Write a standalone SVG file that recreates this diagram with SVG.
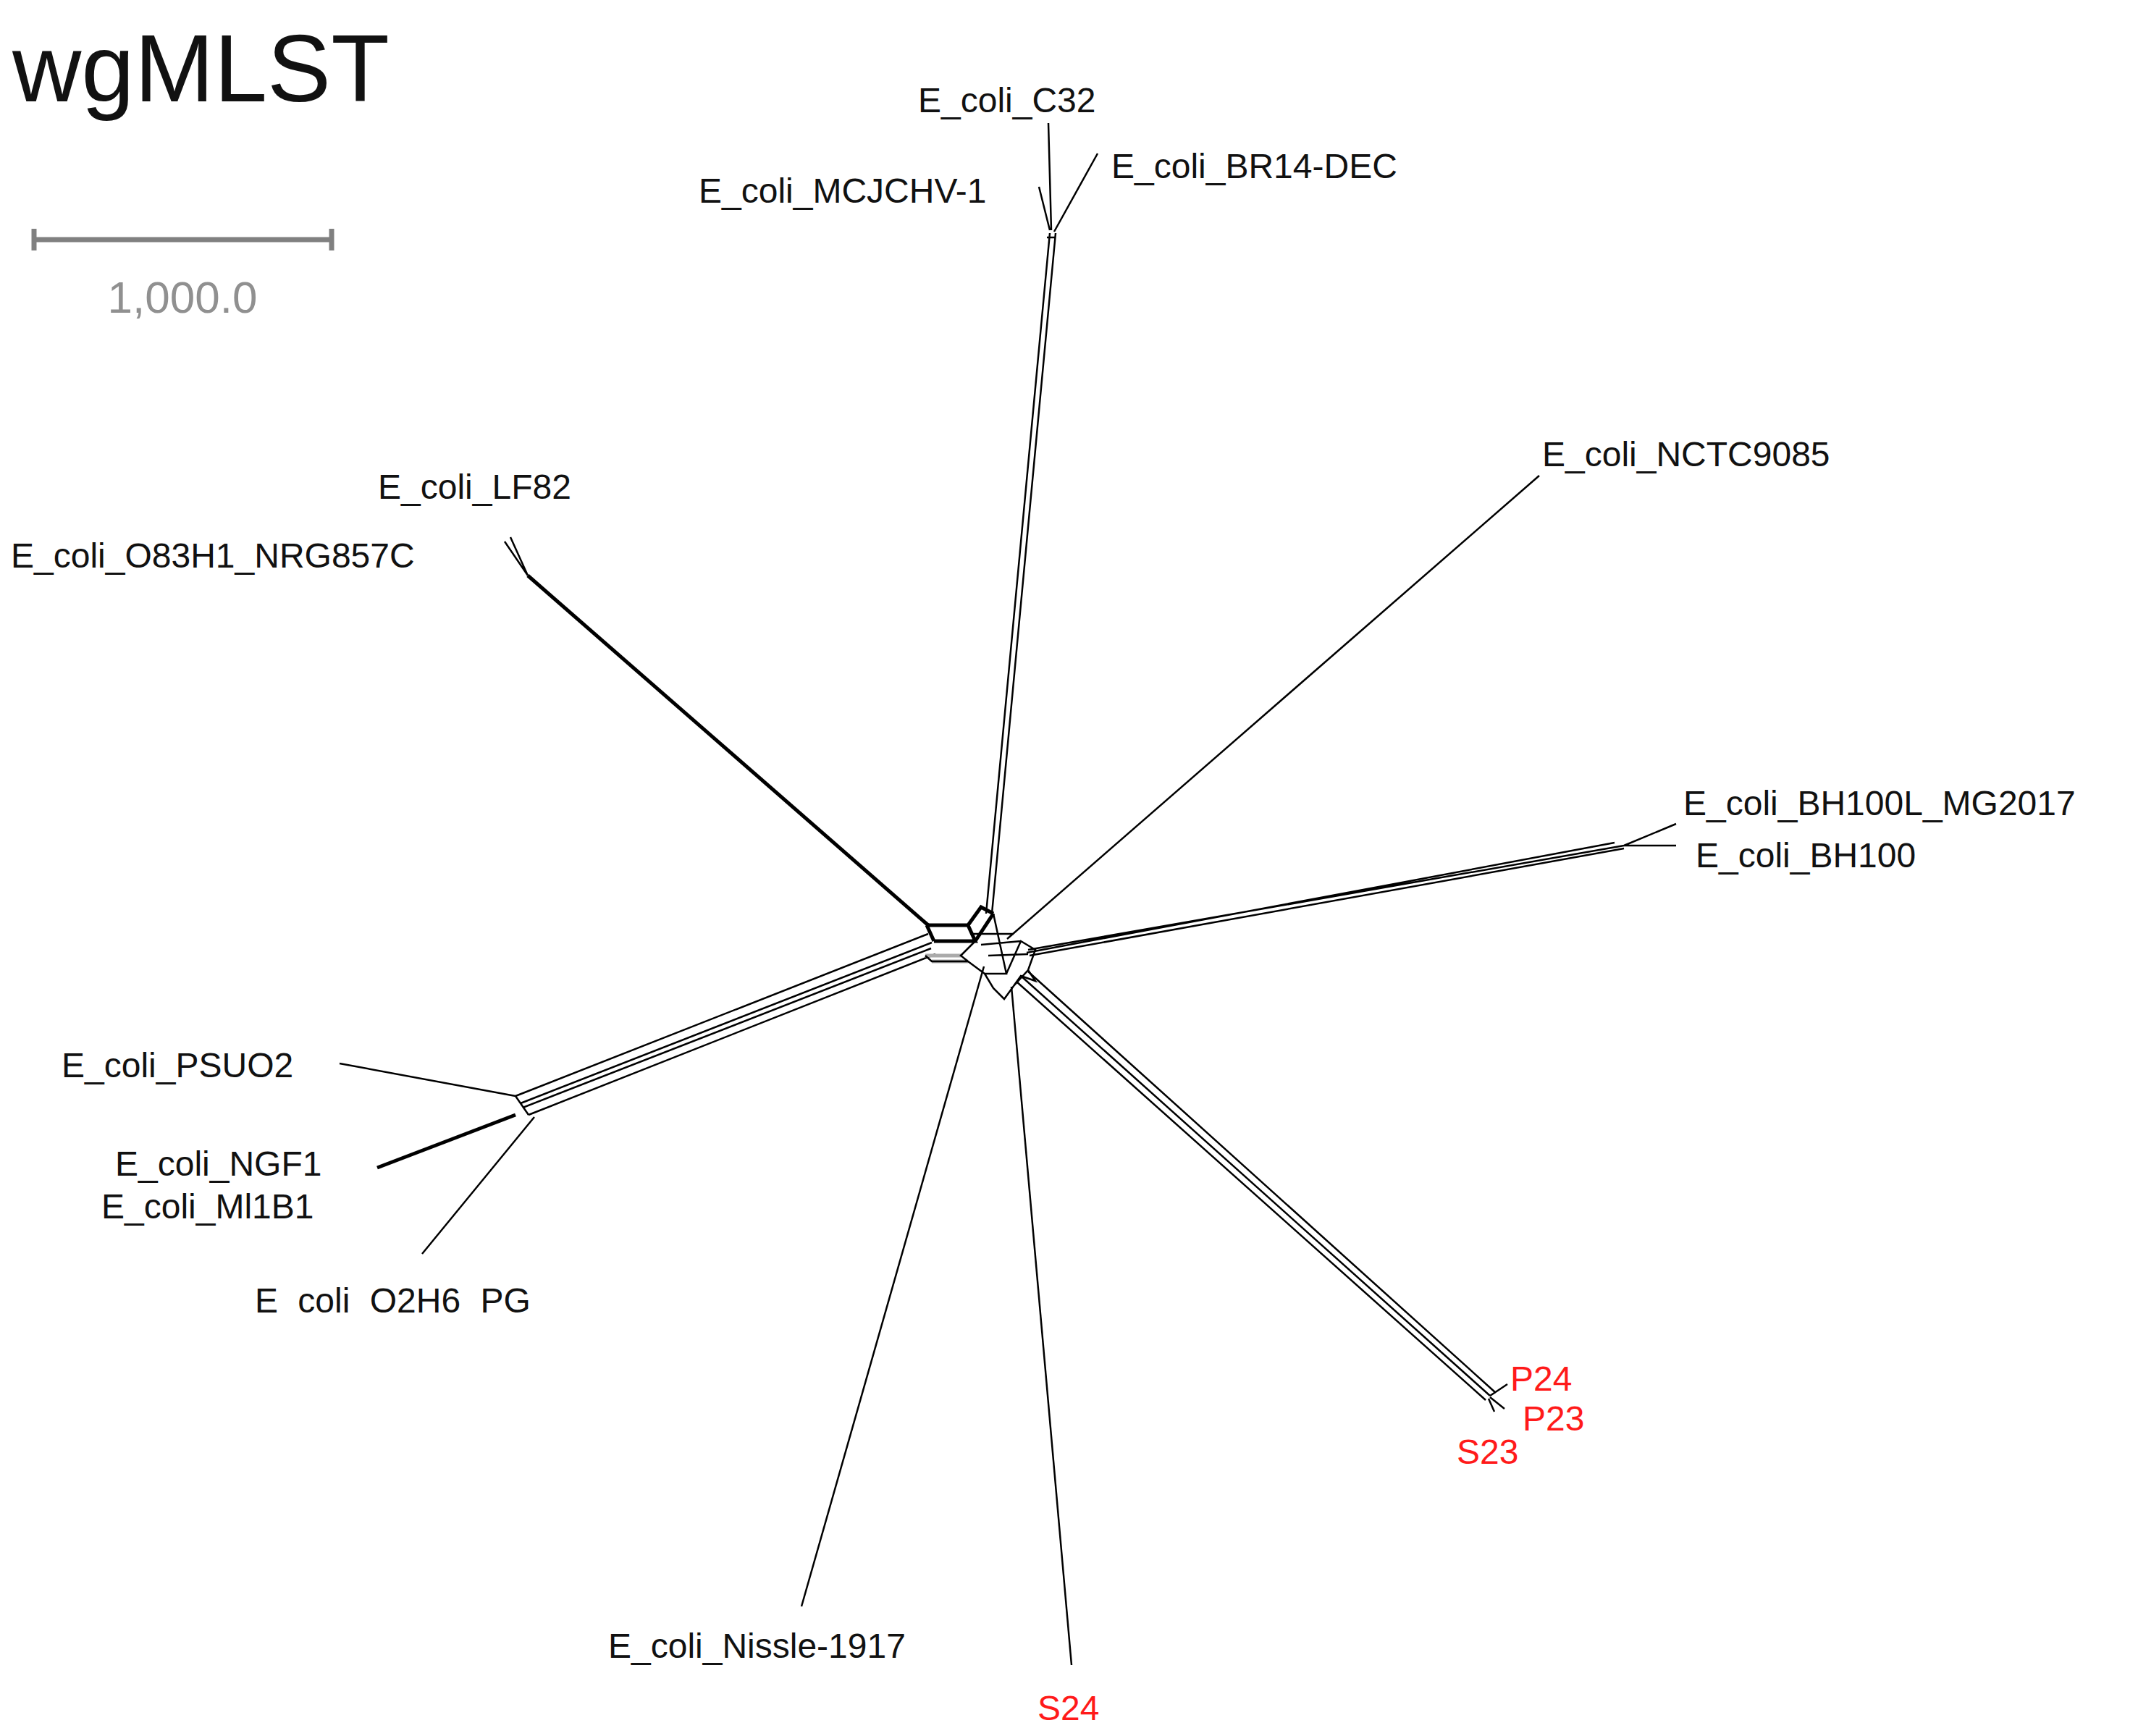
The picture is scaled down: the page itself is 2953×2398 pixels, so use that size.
<svg xmlns="http://www.w3.org/2000/svg" width="2953" height="2398" viewBox="0 0 2953 2398">
<style>
.l{fill:none;stroke:#000;stroke-width:2.5}
.t{stroke-width:5}
.g{fill:none;stroke:#aaa;stroke-width:5}
text{font-family:"Liberation Sans",Arial,sans-serif;font-size:48px;fill:#111}
.r{fill:#ff1a1a}
</style>
<rect width="2953" height="2398" fill="#fff"/>
<text x="17" y="140" style="font-size:132px">wgMLST</text>
<g id="scale" stroke="#808080" stroke-width="7" fill="none"><path d="M47 331H458M47 316V346M458 316V346"/></g>
<text x="252" y="432" text-anchor="middle" style="font-size:62px;fill:#909090">1,000.0</text>
<g id="connectors">
<path class="l" d="M1435 258L1450 318M1448 170L1452 318M1516 212L1456 320"/>
<path class="l" d="M1450 322L1362 1262M1458 322L1370 1262M1446 328L1458 328"/>
<path class="l" d="M697 748L729 795M705 742L729 795"/>
<path class="l t" d="M729 795L1282 1278"/>
<path class="l" d="M2126 657L1391 1297"/>
<path class="l" d="M2315 1138L2243 1168M2315 1168H2243M2243 1168L1420 1312M2243 1172L1422 1320M2230 1164L1418 1316"/>
<path class="l" d="M469 1469L712 1514M719 1524L1287 1302M712 1514L1282 1290M730 1540L1292 1318M722 1530L1286 1310"/>
<path class="l t" d="M521 1613L712 1540"/>
<path class="l" d="M583 1732L738 1543M712 1514L730 1540L719 1524"/>
<path class="l" d="M1107 2219L1359 1335"/>
<path class="l" d="M1480 2300L1397 1363"/>
<path class="l" d="M1410 1348L2058 1928M1420 1342L2066 1924M1404 1356L2052 1934M2058 1928L2082 1912M2058 1930L2078 1946M2056 1932L2064 1950"/>
<path class="l t" d="M1280 1278H1337L1355 1253L1372 1262M1290 1300H1347L1337 1278M1280 1278L1290 1300M1347 1300L1372 1262"/>
<path class="g" d="M1278 1320H1327M1287 1328H1337"/>
<path class="l" d="M1278 1320L1287 1328L1337 1328L1327 1320L1347 1300M1337 1328L1360 1345L1390 1345L1372 1262M1390 1345L1410 1300L1430 1312L1420 1340L1400 1362L1387 1380L1372 1365L1360 1345M1400 1362L1410 1348L1430 1355L1420 1340M1340 1290L1400 1290M1355 1305L1410 1300M1365 1320L1420 1318"/>
</g>
<g id="labels">
<text x="1268" y="155">E_coli_C32</text>
<text x="965" y="280">E_coli_MCJCHV-1</text>
<text x="1535" y="246">E_coli_BR14-DEC</text>
<text x="2130" y="644">E_coli_NCTC9085</text>
<text x="522" y="689">E_coli_LF82</text>
<text x="15" y="784">E_coli_O83H1_NRG857C</text>
<text x="2325" y="1126">E_coli_BH100L_MG2017</text>
<text x="2342" y="1198">E_coli_BH100</text>
<text x="85" y="1488">E_coli_PSUO2</text>
<text x="159" y="1624">E_coli_NGF1</text>
<text x="140" y="1683">E_coli_Ml1B1</text>
<text x="352" y="1813" style="word-spacing:14px">E coli O2H6 PG</text>
<text x="840" y="2290">E_coli_Nissle-1917</text>
<text class="r" x="1433" y="2376">S24</text>
<text class="r" x="2086" y="1921">P24</text>
<text class="r" x="2103" y="1976">P23</text>
<text class="r" x="2012" y="2022">S23</text>
</g>
</svg>
